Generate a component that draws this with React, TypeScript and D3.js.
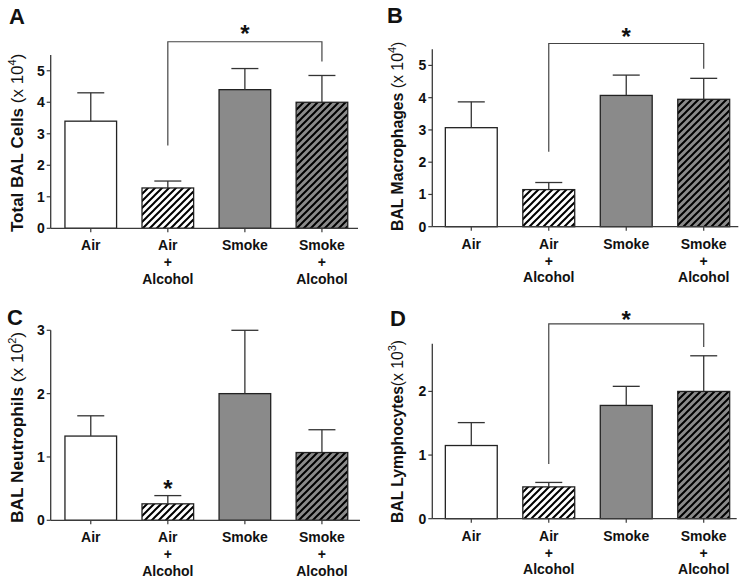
import React from 'react'
import * as d3 from 'd3'

// groups along the x axis
const groups = ['Air', 'Air + Alcohol', 'Smoke', 'Smoke + Alcohol']
const groupLines = [['Air'], ['Air', '+', 'Alcohol'], ['Smoke'], ['Smoke', '+', 'Alcohol']]
const fills = ['#fff', 'url(#hatchWhite)', '#8a8a8a', 'url(#hatchGray)']

// A: total BAL cells (x 10^4)
const totalMean = [3.4, 1.28, 4.4, 4.0]
const totalErr = [0.9, 0.22, 0.67, 0.85]
// B: macrophages (x 10^4)
const macMean = [3.07, 1.15, 4.07, 3.95]
const macErr = [0.8, 0.22, 0.63, 0.65]
// C: neutrophils (x 10^2)
const neuMean = [1.33, 0.26, 2.0, 1.07]
const neuErr = [0.32, 0.13, 1.0, 0.36]
// D: lymphocytes (x 10^3)
const lymMean = [1.15, 0.5, 1.78, 2.0]
const lymErr = [0.36, 0.07, 0.3, 0.56]

const ticks5 = [0, 1, 2, 3, 4, 5]
const ticks3 = [0, 1, 2, 3]
const ticks2 = [0, 1, 2]

const font = '"Liberation Sans", Arial, Helvetica, sans-serif'

const panels = [
  {
    letter: 'A', lx: 9, ly: 24,
    left: 50.7, right: 358, bottom: 228.3, top: 55, domain: [0, 5.5], band: [50.7, 362],
    ticks: ticks5, mean: totalMean, err: totalErr,
    title: 'Total BAL Cells ', exp: '4', titleX: 22.5, titleY: 232, titleSize: 17,
    // bracket: [top, left leg end, right leg end], star value
    bracket: [5.92, 2.63, 5.29], star: 6.3, starGroup: null,
  },
  {
    letter: 'B', lx: 387, ly: 23,
    left: 432.3, right: 738.3, bottom: 226.7, top: 49.3, domain: [0, 5.5], band: [431, 744],
    ticks: ticks5, mean: macMean, err: macErr,
    title: 'BAL Macrophages ', exp: '4', titleX: 403, titleY: 231, titleSize: 15.8,
    bracket: [5.68, 2.32, 4.9], star: 6.0, starGroup: null,
  },
  {
    letter: 'C', lx: 7, ly: 325,
    left: 50.7, right: 360, bottom: 520.3, top: 330.3, domain: [0, 3], band: [50.7, 362],
    ticks: ticks3, mean: neuMean, err: neuErr,
    title: 'BAL Neutrophils ', exp: '2', titleX: 22.5, titleY: 523, titleSize: 17.3,
    bracket: null, star: 0.56, starGroup: 1,
  },
  {
    letter: 'D', lx: 390, ly: 326,
    left: 432.3, right: 736.7, bottom: 518.7, top: 343.7, domain: [0, 2.75], band: [431, 744],
    ticks: ticks2, mean: lymMean, err: lymErr,
    title: 'BAL Lymphocytes', exp: '3', titleX: 403, titleY: 523, titleSize: 15.7,
    bracket: [3.06, 0.86, 2.7], star: 3.19, starGroup: null,
  },
]

function Panel({ p }) {
  const x = d3.scaleBand().domain(groups).range(p.band).paddingInner(0.33).paddingOuter(0.185)
  const y = d3.scaleLinear().domain(p.domain).range([p.bottom, p.top])
  const bw = x.bandwidth()
  const cx = g => x(g) + bw / 2
  const axisColor = '#3a3a3a'

  let starX = 0
  if (p.bracket) starX = (cx(groups[1]) + cx(groups[3])) / 2
  else starX = cx(groups[p.starGroup])

  return (
    <g fontFamily={font}>
      <text x={p.lx} y={p.ly} fontSize={22} fontWeight="bold" fill="#111">{p.letter}</text>

      {/* bars */}
      {groups.map((g, i) => (
        <rect key={g} x={x(g)} y={y(p.mean[i])} width={bw} height={y(0) - y(p.mean[i])}
          fill={fills[i]} stroke="#222" strokeWidth={1.3} />
      ))}

      {/* error bars */}
      {groups.map((g, i) => {
        const top = y(p.mean[i] + p.err[i])
        return (
          <g key={'e' + g} stroke="#333" strokeWidth={1.3}>
            <line x1={cx(g)} x2={cx(g)} y1={y(p.mean[i])} y2={top} />
            <line x1={cx(g) - 13.5} x2={cx(g) + 13.5} y1={top} y2={top} />
          </g>
        )
      })}

      {/* axes */}
      <line x1={p.left} x2={p.left} y1={p.top} y2={p.bottom} stroke={axisColor} strokeWidth={1.3} />
      <line x1={p.left} x2={p.right} y1={p.bottom} y2={p.bottom} stroke={axisColor} strokeWidth={1.3} />
      {p.ticks.map(t => (
        <g key={t}>
          <line x1={p.left - 4} x2={p.left} y1={y(t)} y2={y(t)} stroke={axisColor} strokeWidth={1.2} />
          <text x={p.left - 6} y={y(t) + 5} textAnchor="end" fontSize={14} fontWeight="bold" fill="#111">{t}</text>
        </g>
      ))}
      {groups.map((g, i) => (
        <g key={'x' + g}>
          <line x1={cx(g)} x2={cx(g)} y1={p.bottom} y2={p.bottom + 4} stroke={axisColor} strokeWidth={1.2} />
          {groupLines[i].map((s, j) => (
            <text key={j} x={cx(g)} y={p.bottom + 22 + j * 16.8} textAnchor="middle"
              fontSize={14} fontWeight="bold" fill="#111">{s}</text>
          ))}
        </g>
      ))}

      {/* y title */}
      <text transform={`translate(${p.titleX},${p.titleY}) rotate(-90)`} fontSize={p.titleSize} fill="#111">
        <tspan fontWeight="bold">{p.title}</tspan>
        <tspan>(x 10</tspan>
        <tspan fontSize={11} dy={-7}>{p.exp}</tspan>
        <tspan dy={7}>)</tspan>
      </text>

      {/* significance */}
      {p.bracket && (
        <path
          d={`M${cx(groups[1])},${y(p.bracket[1])}V${y(p.bracket[0])}H${cx(groups[3])}V${y(p.bracket[2])}`}
          fill="none" stroke="#444" strokeWidth={1.2} />
      )}
      <text x={starX} y={y(p.star) + 12} textAnchor="middle" fontSize={24} fontWeight="bold" fill="#111">*</text>
    </g>
  )
}

export default function App() {
  return (
    <svg width={750} height={584} style={{ position: 'absolute', left: 0, top: 0, background: '#fff' }}>
      <defs>
        <pattern id="hatchWhite" patternUnits="userSpaceOnUse" width={7} height={7}>
          <rect width={7} height={7} fill="#fff" />
          <path d="M-1,1 l2,-2 M0,7 l7,-7 M6,8 l2,-2" stroke="#000" strokeWidth={2} />
        </pattern>
        <pattern id="hatchGray" patternUnits="userSpaceOnUse" width={7} height={7}>
          <rect width={7} height={7} fill="#8a8a8a" />
          <path d="M-1,1 l2,-2 M0,7 l7,-7 M6,8 l2,-2" stroke="#000" strokeWidth={2} />
        </pattern>
      </defs>
      <rect width={750} height={584} fill="#fff" />
      {panels.map(p => <Panel key={p.letter} p={p} />)}
    </svg>
  )
}
